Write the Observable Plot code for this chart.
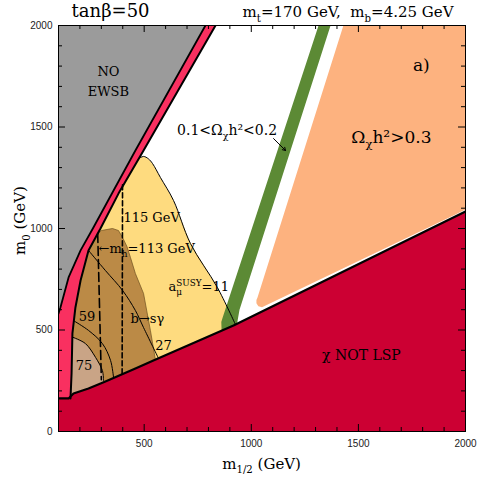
<!DOCTYPE html>
<html>
<head>
<meta charset="utf-8">
<script src="https://cdn.jsdelivr.net/npm/d3@7"></script>
<script src="https://cdn.jsdelivr.net/npm/@observablehq/plot@0.6"></script>
<style>
  html, body { margin: 0; padding: 0; background: white; }
</style>
</head>
<body>
<div id="chart"></div>
<script>
// ---- data (m1/2, m0) in GeV ----
const xTicksMajor = [500, 1000, 1500, 2000];
const yTicksMajor = [0, 500, 1000, 1500, 2000];
const xTicksMinor = d3.range(200, 2000, 100).filter(v => v % 500 !== 0);
const yTicksMinor = d3.range(100, 2000, 100).filter(v => v % 500 !== 0);

const noEwsbRegion = [[100,2000],[786,2000],[459,1384],[357,1187],[263,1005],[203,892],[147,759],[109,611],[100,581]];
const noEwsbEdge   = [[786,2000],[459,1384],[357,1187],[263,1005],[203,892],[147,759],[109,611],[100,581]];
const pinkEdge     = [[833,2000],[497,1384],[380,1172],[296,1000],[240,892],[203,744],[179,611],[165,483],[161,286],[156,163]];
const pinkRegion   = [[100,2000], ...pinkEdge, [100,163]];
const lspEdge      = [[100,163],[147,163],[170,187],[240,212],[319,246],[459,310],[543,350],[917,522],[2000,1084]];
const lspRegion    = [...lspEdge, [2000,0],[100,0]];
const yellowRegion = [[440,1320],[470,1345],[497,1355],[520,1343],[539,1320],[576,1251],[637,1138],[716,926],[842,709],[926,527],[950,470],[300,150],[150,150],[150,700],[230,900],[350,1180]];
const amu11Line    = [[475,1345],[497,1355],[520,1343],[539,1320],[576,1251],[637,1138],[716,926],[842,709],[926,527]];
const bsgRegion    = [[270,960],[300,990],[352,1000],[380,990],[399,956],[420,910],[436,857],[459,778],[497,680],[529,498],[553,350],[570,250],[150,150],[150,700],[200,850]];
const amu75Region  = [[150,480],[170,463],[226,433],[273,365],[305,300],[310,251],[315,200],[150,150]];
const amu75Line    = [[167,464],[226,433],[273,365],[305,300],[310,251]];
const amu59Line    = [[172,545],[240,498],[305,433],[343,350],[357,266]];
const amu27Line    = [[240,892],[319,793],[399,695],[459,596],[497,512],[567,360]];
const mh113Line    = [[283,975],[300,255]];
const mh115Line    = [[399,1215],[397,275]];
const greenBand    = [[1314,2000],[1370,2000],[945,600],[935,540],[905,480],[862,480],[860,540],[866,560]];
const orangeRegion = [[1430,2000],[2000,2000],[2000,1094],[1963,1074],[1050,612],[1033,617],[1024,632],[1024,648],[1029,660]];
const omegaArrow   = [{x1: 1104, y1: 1443, x2: 1160, y2: 1384}];

const labels13 = [
  {t: "NO", x: 333, y: 1773},
  {t: "EWSB", x: 333, y: 1675},
  {t: "59", x: 233, y: 566},
  {t: "b→sγ", x: 515, y: 557},
  {t: "27", x: 590, y: 424},
  {t: "75", x: 219, y: 325}
];
const labelsStart = [
  {t: "115 GeV", x: 403, y: 1054},
  {t: "←m_{h}=113 GeV", x: 287, y: 901},
  {t: "a_{μ}^{SUSY}=11", x: 613, y: 712}
];
const labelsMid14 = [
  {t: "0.1<Ω_{χ}h²<0.2", x: 887, y: 1483},
  {t: "χ NOT LSP", x: 1514, y: 374}
];
const labelsBig = [
  {t: "Ω_{χ}h²>0.3", x: 1654, y: 1448},
  {t: "a)", x: 1794, y: 1803}
];
const titleLeft  = [{t: "tanβ=50", x: 343, y: 2069}];
const titleRight = [{t: "m_{t}=170 GeV,  m_{b}=4.25 GeV", x: 1944, y: 2064}];
const xLabel = [{t: "m_{1/2} (GeV)", x: 1048, y: -160}];
const yLabel = [{t: "m_{0} (GeV)", x: -77, y: 1039}];

const serif = "DejaVu Serif";
const sans = "Liberation Sans";
const PW = 407, PH = 406;

const poly = (pts, fill, extra = {}) => Plot.line(pts, {x: d => d[0], y: d => d[1], fill, stroke: "none", clip: true, ...extra});
const path = (pts, extra = {}) => Plot.line(pts, {x: d => d[0], y: d => d[1], stroke: "black", fill: "none", clip: true, ...extra});
const txt = (arr, opts) => Plot.text(arr, {x: "x", y: "y", text: "t", fontFamily: serif, fill: "black", ...opts});

const chart = Plot.plot({
  width: 485, height: 485,
  marginLeft: 58, marginRight: 20, marginTop: 25, marginBottom: 54,
  x: {domain: [100, 2000]},
  y: {domain: [0, 2000]},
  style: {background: "white", fontFamily: serif},
  marks: [
    poly(orangeRegion, "#fdb27f"),
    poly(yellowRegion, "#fedb7f"),
    poly(greenBand, "#5c8a35"),
    poly(bsgRegion, "#bb8a46", {stroke: "#6e5020", strokeWidth: 0.7}),
    poly(amu75Region, "#c9a486"),
    poly(pinkRegion, "#f93060"),
    poly(noEwsbRegion, "#9b9b9b"),
    poly(lspRegion, "#cc0033"),
    path(amu27Line, {strokeWidth: 1, curve: "catmull-rom"}),
    path(amu59Line, {strokeWidth: 1, curve: "catmull-rom"}),
    path(amu75Line, {strokeWidth: 1, curve: "catmull-rom"}),
    path(amu11Line, {strokeWidth: 1, curve: "catmull-rom"}),
    path(mh113Line, {strokeWidth: 1.6, strokeDasharray: "9,4"}),
    path(mh115Line, {strokeWidth: 1.6, strokeDasharray: "5,3"}),
    path(noEwsbEdge, {strokeWidth: 1.8}),
    path(pinkEdge, {strokeWidth: 2}),
    path(lspEdge, {strokeWidth: 2.2}),
    Plot.arrow(omegaArrow, {x1: "x1", y1: "y1", x2: "x2", y2: "y2", stroke: "black", strokeWidth: 1, headLength: 5}),
    Plot.frame({stroke: "black", strokeWidth: 1}),
    // inward ticks on all four sides
    Plot.tickX(xTicksMajor, {x: d => d, insetTop: PH - 7, stroke: "black"}),
    Plot.tickX(xTicksMinor, {x: d => d, insetTop: PH - 4, stroke: "black"}),
    Plot.tickX(xTicksMajor, {x: d => d, insetBottom: PH - 7, stroke: "black"}),
    Plot.tickX(xTicksMinor, {x: d => d, insetBottom: PH - 4, stroke: "black"}),
    Plot.tickY(yTicksMajor, {y: d => d, insetRight: PW - 7, stroke: "black"}),
    Plot.tickY(yTicksMinor, {y: d => d, insetRight: PW - 4, stroke: "black"}),
    Plot.tickY(yTicksMajor, {y: d => d, insetLeft: PW - 7, stroke: "black"}),
    Plot.tickY(yTicksMinor, {y: d => d, insetLeft: PW - 4, stroke: "black"}),
    Plot.axisX({ticks: xTicksMajor, tickSize: 0, tickPadding: 8, label: null, tickFormat: d => String(d), fontFamily: sans, fontSize: 10, fill: "#222"}),
    Plot.axisY({ticks: yTicksMajor, tickSize: 0, tickPadding: 6, label: null, tickFormat: d => String(d), fontFamily: sans, fontSize: 10, fill: "#222"}),
    txt(labels13, {fontSize: 13}),
    txt(labelsStart, {fontSize: 13, textAnchor: "start"}),
    txt(labelsMid14, {fontSize: 14}),
    txt(labelsBig, {fontSize: 17}),
    txt(titleLeft, {fontSize: 18}),
    txt(titleRight, {fontSize: 15, textAnchor: "end"}),
    txt(xLabel, {fontSize: 15}),
    txt(yLabel, {fontSize: 15, rotate: -90})
  ]
});

document.getElementById("chart").appendChild(chart);

// turn _{..} / ^{..} markup into real sub/superscript tspans
function richify(svg) {
  const NS = "http://www.w3.org/2000/svg";
  for (const t of svg.querySelectorAll("text")) {
    const s = t.textContent;
    if (!/[_^]\{/.test(s)) continue;
    const fs = parseFloat(getComputedStyle(t).fontSize) || 12;
    while (t.firstChild) t.removeChild(t.firstChild);
    const re = /([_^])\{([^}]*)\}/g;
    let last = 0, offset = 0, m, prevSub = null;
    const add = (str, shift, small, dx) => {
      const ts = document.createElementNS(NS, "tspan");
      ts.textContent = str;
      const dy = shift - offset;
      if (dy) ts.setAttribute("dy", dy.toFixed(2));
      if (dx) ts.setAttribute("dx", dx.toFixed(2));
      if (small) ts.setAttribute("font-size", (fs * 0.68).toFixed(2));
      offset = shift;
      t.appendChild(ts);
      return ts;
    };
    while ((m = re.exec(s))) {
      if (m.index > last) { add(s.slice(last, m.index), 0, false); prevSub = null; }
      if (m[1] === "_") {
        prevSub = add(m[2], fs * 0.3, true);
      } else {
        const dx = (prevSub && m.index === last) ? -prevSub.getComputedTextLength() : 0;
        add(m[2], -fs * 0.4, true, dx);
        prevSub = null;
      }
      last = re.lastIndex;
    }
    if (last < s.length) add(s.slice(last), 0, false);
  }
}
richify(chart);
</script>
</body>
</html>
